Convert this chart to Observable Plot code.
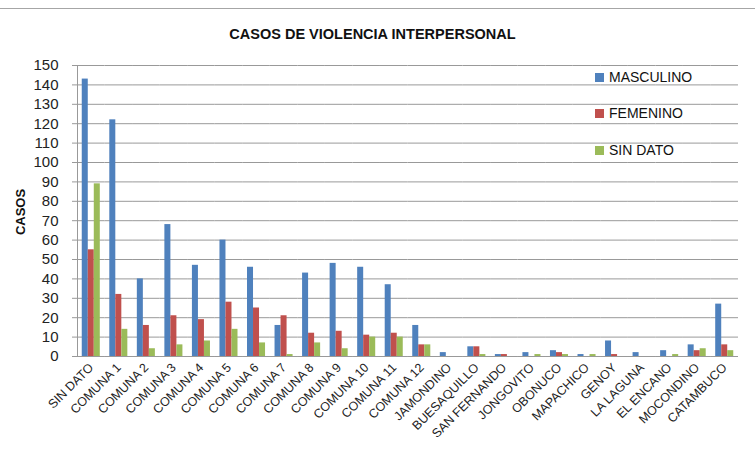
<!DOCTYPE html>
<html>
<head>
<meta charset="utf-8">
<script src="https://cdn.jsdelivr.net/npm/d3@7"></script>
<script src="https://cdn.jsdelivr.net/npm/@observablehq/plot@0.6"></script>
<style>
  html, body { margin: 0; padding: 0; background: #fff; }
  #wrap { position: relative; width: 755px; height: 450px; overflow: hidden; font-family: "Liberation Sans", Arial, sans-serif; color: #111; }
  #topline { position: absolute; left: 0; top: 8px; width: 755px; height: 0; border-top: 1px solid #a6a6a6; }
  #title { position: absolute; left: 0; top: 26px; width: 745px; text-align: center; font-weight: bold; font-size: 14.5px; line-height: 16px; }
  #chart { position: absolute; left: 0; top: 50px; }
  #ylabel { position: absolute; left: 20px; top: 212px; transform: translate(-50%, -50%) rotate(-90deg); font-weight: bold; font-size: 13px; white-space: nowrap; }
  #legend { position: absolute; left: 595px; top: 0; }
  .item { position: absolute; left: 0; white-space: nowrap; font-size: 14px; line-height: 16px; display: flex; align-items: center; }
  .sw { display: inline-block; width: 9px; height: 9px; margin-right: 5px; }
</style>
</head>
<body>
<div id="wrap">
  <div id="topline"></div>
  <div id="title">CASOS DE VIOLENCIA INTERPERSONAL</div>
  <div id="chart"></div>
  <div id="ylabel">CASOS</div>
  <div id="legend"></div>
</div>
<script>
const categories = ["SIN DATO","COMUNA 1","COMUNA 2","COMUNA 3","COMUNA 4","COMUNA 5","COMUNA 6","COMUNA 7","COMUNA 8","COMUNA 9","COMUNA 10","COMUNA 11","COMUNA 12","JAMONDINO","BUESAQUILLO","SAN FERNANDO","JONGOVITO","OBONUCO","MAPACHICO","GENOY","LA LAGUNA","EL ENCANO","MOCONDINO","CATAMBUCO"];
const series = ["MASCULINO","FEMENINO","SIN DATO"];
const masculino = [143,122,40,68,47,60,46,16,43,48,46,37,16,2,5,1,2,3,1,8,2,3,6,27];
const femenino  = [55,32,16,21,19,28,25,21,12,13,11,12,6,0,5,1,0,2,0,1,0,0,3,6];
const sinDato   = [89,14,4,6,8,14,7,1,7,4,10,10,6,0,1,0,1,1,1,0,0,1,4,3];
const colors = ["#4F81BD","#C0504D","#9BBB59"];
const yTicks = [0,10,20,30,40,50,60,70,80,90,100,110,120,130,140,150];

const valuesBySeries = [masculino, femenino, sinDato];
const rows = categories.flatMap((c, i) => series.map((s, j) => ({cat: c, serie: s, value: valuesBySeries[j][i]})));

const chart = Plot.plot({
  width: 755,
  height: 400,
  marginTop: 15,
  marginBottom: 94,
  marginLeft: 77,
  marginRight: 17,
  style: {fontFamily: '"Liberation Sans", Arial, sans-serif', background: "white", color: "#222"},
  fx: {domain: categories, padding: 0, round: false, label: null},
  x: {domain: series, axis: null, paddingInner: 0, paddingOuter: 0.79, round: false},
  y: {domain: [0, 150], label: null},
  color: {domain: series, range: colors},
  marks: [
    Plot.gridY(yTicks, {stroke: "#999", strokeOpacity: 1}),
    Plot.ruleY([0], {stroke: "#999"}),
    Plot.barY(rows, {fx: "cat", x: "serie", y: "value", fill: "serie"}),
    Plot.axisY(yTicks, {tickSize: 5, tickPadding: 14, fontSize: 15, label: null, stroke: "#999", fill: "#222"}),
    Plot.axisFx({anchor: "bottom", tickRotate: -45, tickSize: 0, tickPadding: 9, fontSize: 12.5, label: null, fill: "#222"}),
    Plot.frame({anchor: "left", facetAnchor: "left", stroke: "#999"})
  ]
});
document.getElementById("chart").appendChild(chart);

const legend = document.getElementById("legend");
const legendY = [77, 113, 150];
series.forEach((s, i) => {
  const d = document.createElement("div");
  d.className = "item";
  d.style.top = (legendY[i] - 8) + "px";
  d.innerHTML = `<span class="sw" style="background:${colors[i]}"></span><span>${s}</span>`;
  legend.appendChild(d);
});
</script>
</body>
</html>
